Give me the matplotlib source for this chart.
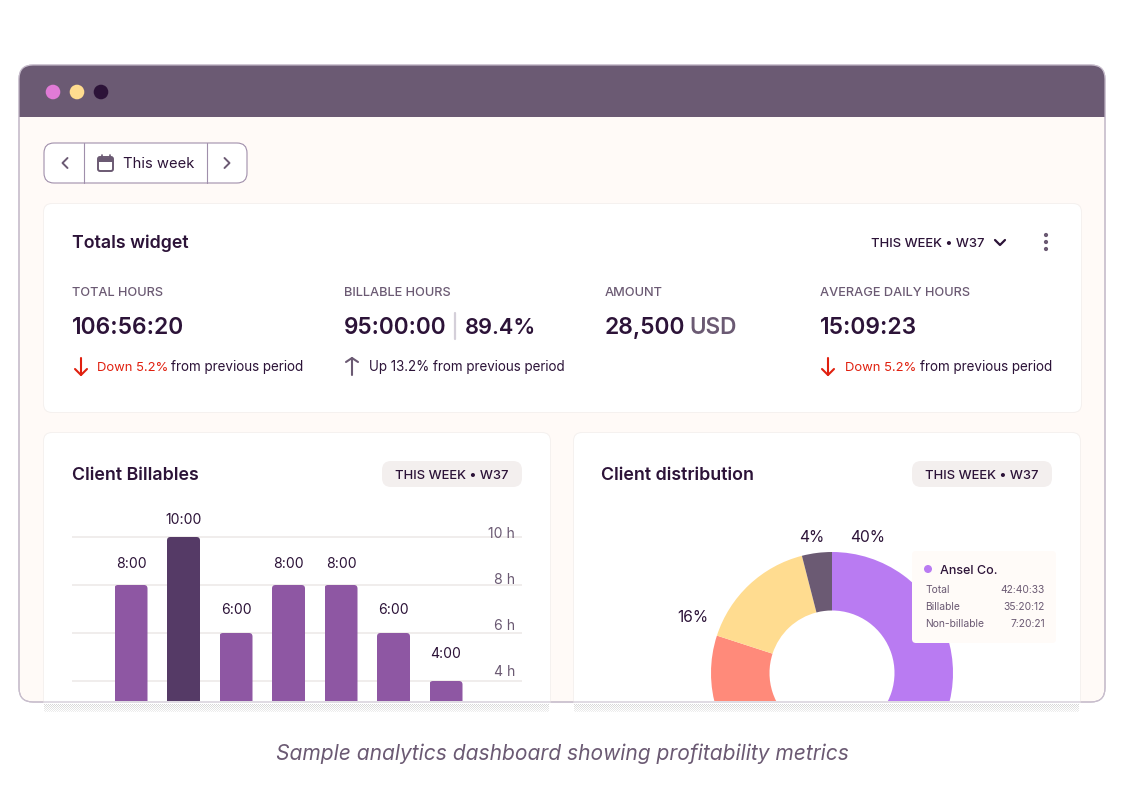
import matplotlib
matplotlib.use("Agg")
import matplotlib.pyplot as plt
import numpy as np
from matplotlib.patches import FancyBboxPatch, Rectangle, Circle

plt.rcParams['font.family'] = ['Inter', 'DejaVu Sans']

# data
days = [0, 1, 2, 3, 4, 5, 6]
hours = [8, 10, 6, 8, 8, 6, 4]
bar_labels = ["8:00", "10:00", "6:00", "8:00", "8:00", "6:00", "4:00"]
bar_label_nudge = [22, 18, 24, 22, 22, 24, 29]
highlight_day = 1
hour_ticks = [10, 8, 6, 4]
hour_tick_labels = ["10 h", "8 h", "6 h", "4 h"]
hour_tick_nudge = [5, 6, 8, 11]

share_values = [40, 40, 16, 4]
share_colors = ["#B97BF2", "#FF8A7A", "#FFDC90", "#6B5A73"]

metric_names = ["TOTAL HOURS", "BILLABLE HOURS", "AMOUNT", "AVERAGE DAILY HOURS"]
metric_x = [72, 344, 605, 820]

tooltip_rows = ["Total", "Billable", "Non-billable"]
tooltip_vals = ["42:40:33", "35:20:12", "7:20:21"]

DARK = "#2C1338"
MUTED = "#6B5A73"
RED = "#E0200F"
EDGE = "#A08FAB"

fig = plt.figure(figsize=(11.25, 8), dpi=100, facecolor="white")


def px_axes(x0, y0, x1, y1, z):
    return fig.add_axes([x0 / 1125, 1 - y1 / 800, (x1 - x0) / 1125, (y1 - y0) / 800], zorder=z)


def rbox(ax, x0, y0, x1, y1, r, **kw):
    p = FancyBboxPatch((x0, y0), x1 - x0, y1 - y0, boxstyle=f"round,pad=0,rounding_size={r}", **kw)
    ax.add_patch(p)
    return p


def txt(ax, x, y, s, px, color=DARK, ha="left", **kw):
    # y is the middle of the capitals, so text with a comma or a descender stays on the line
    return ax.text(x, y + 0.36 * px, s, fontsize=px * 0.72, color=color, ha=ha, va="baseline", **kw)


def line(ax, xs, ys, color=MUTED, lw=1.6, **kw):
    ax.plot(xs, ys, color=color, lw=lw, solid_capstyle="round", solid_joinstyle="round", **kw)


def arrow(ax, x, y0, y1, color):
    # y0 is the tail, y1 the tip
    d = 5 if y1 > y0 else -5
    line(ax, [x, x], [y0, y1], color, 1.5)
    line(ax, [x - 6, x, x + 6], [y1 - d - 1, y1, y1 - d - 1], color, 1.5)


# background layer in pixels
bg = px_axes(0, 0, 1125, 800, 0)
bg.set_xlim(0, 1125)
bg.set_ylim(800, 0)
bg.axis("off")

window = rbox(bg, 19, 65, 1105, 702, 14, fc="#FFFAF7", ec="#B9ADBF", lw=0.8)
title_bar = Rectangle((19, 65), 1086, 52, fc=MUTED, ec="none")
bg.add_patch(title_bar)
title_bar.set_clip_path(window)
for x, c in zip([53, 77, 101], ["#E07BD6", "#FFDC8F", "#2C1338"]):
    bg.add_patch(Circle((x, 92), 7.3, fc=c, ec="none"))

# date picker
rbox(bg, 44, 143, 247, 183, 10, fc="white", ec=EDGE, lw=0.8)
line(bg, [84, 84], [143, 183], EDGE, 0.8)
line(bg, [207, 207], [143, 183], EDGE, 0.8)
line(bg, [67.5, 62.5, 67.5], [158, 163, 168], MUTED, 1.4)
line(bg, [224.5, 229.5, 224.5], [158, 163, 168], MUTED, 1.4)
rbox(bg, 98, 157, 113, 171, 2, fc="none", ec=MUTED, lw=1.4)
bg.add_patch(Rectangle((98, 158), 15, 3.5, fc=MUTED, ec="none"))
line(bg, [101.5, 101.5], [155, 158], MUTED, 1.2)
line(bg, [109.5, 109.5], [155, 158], MUTED, 1.2)
txt(bg, 123, 163, "This week", 14.8)

# cards
card_boxes = [(44, 204, 1081, 412), (44, 433, 550, 730), (574, 433, 1080, 730)]
for x0, y0, x1, y1 in card_boxes:
    rbox(bg, x0 - 1, y0 - 1, x1 + 1, y1 + 1, 9, fc="#F5F1EF", ec="none")
    rbox(bg, x0, y0, x1, y1, 8, fc="white", ec="none")

# totals widget
txt(bg, 72, 242, "Totals widget", 17.8, weight="semibold")
txt(bg, 871, 242, "THIS WEEK • W37", 13, weight="medium")
line(bg, [995, 1000, 1005], [240, 245, 240], DARK, 1.6)
for y in [235, 242, 249]:
    bg.add_patch(Circle((1046, y), 2.1, fc=MUTED, ec="none"))

for x, name in zip(metric_x, metric_names):
    txt(bg, x, 291.5, name, 12.8, MUTED, weight="medium")

txt(bg, 72, 326, "106:56:20", 22.8, weight="semibold")
txt(bg, 344, 326, "95:00:00", 22.6, weight="semibold")
line(bg, [455, 455], [313, 339], "#D4CFD9", 1.6)
txt(bg, 465, 326, "89.4%", 21.8, weight="semibold")
txt(bg, 605, 326, "28,500", 22.8, weight="semibold")
txt(bg, 689, 326, "USD", 22.6, MUTED, weight="semibold")
txt(bg, 820, 326, "15:09:23", 22.8, weight="semibold")

arrow(bg, 81, 358, 375, RED)
txt(bg, 97, 366, "Down 5.2%", 13, RED)
txt(bg, 171, 366, "from previous period", 13.5)
arrow(bg, 352, 375, 358, MUTED)
txt(bg, 369, 366, "Up 13.2% from previous period", 13.4)
arrow(bg, 828, 358, 375, RED)
txt(bg, 845, 366, "Down 5.2%", 13, RED)
txt(bg, 920, 366, "from previous period", 13.5)

# lower card headers
txt(bg, 72, 474, "Client Billables", 17.8, weight="semibold")
txt(bg, 601, 474, "Client distribution", 17.8, weight="semibold")
for x0 in [382, 912]:
    rbox(bg, x0, 461, x0 + 140, 487, 9, fc="#F3EFEE", ec="none")
    txt(bg, x0 + 70, 474, "THIS WEEK • W37", 13, ha="center", weight="medium")

# bar chart, one day is 52.5 px and one hour 24 px
ax = px_axes(72, 500, 522, 701, 1)
ax.set_xlim((72 - 131) / 52.5, (522 - 131) / 52.5)
ax.set_ylim(4 - 20 / 24, 10 + 37 / 24)
ax.axis("off")
ax.hlines(hour_ticks, *ax.get_xlim(), color="#EFECEB", lw=1.3, zorder=1)
bar_w = 33 / 52.5
colors = ["#553A66" if d == highlight_day else "#8E57A3" for d in days]
bars = ax.bar(days, hours, width=bar_w, color=colors, zorder=2)
for b in bars:
    rounded = FancyBboxPatch((b.get_x(), 0), b.get_width(), b.get_height(),
                             boxstyle=f"round,pad=0,rounding_size={3.5 / 52.5}",
                             mutation_aspect=52.5 / 24, transform=ax.transData)
    b.set_clip_path(rounded)
for d, h, s, n in zip(days, hours, bar_labels, bar_label_nudge):
    ax.annotate(s, (d, h), xytext=(0, n), textcoords="offset pixels", ha="center", va="center_baseline",
                fontsize=14 * 0.72, color=DARK, annotation_clip=False)
for h, s, n in zip(hour_ticks, hour_tick_labels, hour_tick_nudge):
    ax.annotate(s, ((515 - 131) / 52.5, h), xytext=(0, n), textcoords="offset pixels", ha="right",
                va="center_baseline", fontsize=14 * 0.72, color=MUTED, zorder=3)

# donut, radius 1 is 121 px around (832, 673)
pie_ax = px_axes(601, 500, 1052, 701, 1)
pie_ax.patch.set_visible(False)
wedges, _ = pie_ax.pie(share_values, colors=share_colors, startangle=90, counterclock=False,
                       radius=1, wedgeprops=dict(width=1 - 62.5 / 121))
pie_ax.set_aspect("auto")
pie_ax.set_xlim((601 - 832) / 121, (1052 - 832) / 121)
pie_ax.set_ylim((673 - 701) / 121, (673 - 500) / 121)
for w in wedges:
    w.set_clip_on(True)
    w.set_clip_box(pie_ax.bbox)

# top layer
top = px_axes(0, 0, 1125, 800, 2)
top.set_xlim(0, 1125)
top.set_ylim(800, 0)
top.axis("off")
top.patch.set_visible(False)

txt(top, 868, 536, "40%", 15.6, ha="center")
txt(top, 812, 536, "4%", 15.6, ha="center")
txt(top, 693, 616, "16%", 15.6, ha="center")

rbox(top, 912, 551, 1056, 643, 4, fc="#FFFBF8", ec="none")
top.add_patch(Circle((928, 569), 4, fc=share_colors[0], ec="none"))
txt(top, 940, 569, "Ansel Co.", 12.5, weight="medium")
for y, a, b in zip([589, 606, 623], tooltip_rows, tooltip_vals):
    txt(top, 925, y, a, 10.3, MUTED)
    txt(top, 1045, y, b, 10.3, MUTED, ha="right")

# window edge over the cut off cards, dotted fade below
top.add_patch(Rectangle((18, 703), 1088, 30, fc="white", ec="none"))
rbox(top, 19, 65, 1105, 702, 14, fc="none", ec="#C9BFCE", lw=0.8)
for x0, x1 in [(44, 549), (574, 1079)]:
    rows, cols = np.indices((8, x1 - x0))
    dots = np.ones((8, x1 - x0, 4))
    dots[..., :3] = 0.8
    dots[..., 3] = ((rows + cols) % 2 == 0) * np.linspace(0.8, 0.35, 8)[:, None]
    top.imshow(dots, extent=(x0, x1, 712, 704), aspect="auto", interpolation="nearest", zorder=3)
top.set_xlim(0, 1125)
top.set_ylim(800, 0)

txt(top, 562, 752, "Sample analytics dashboard showing profitability metrics", 21, MUTED, ha="center", style="italic")

fig.savefig("out.png", dpi=100, facecolor="white")
